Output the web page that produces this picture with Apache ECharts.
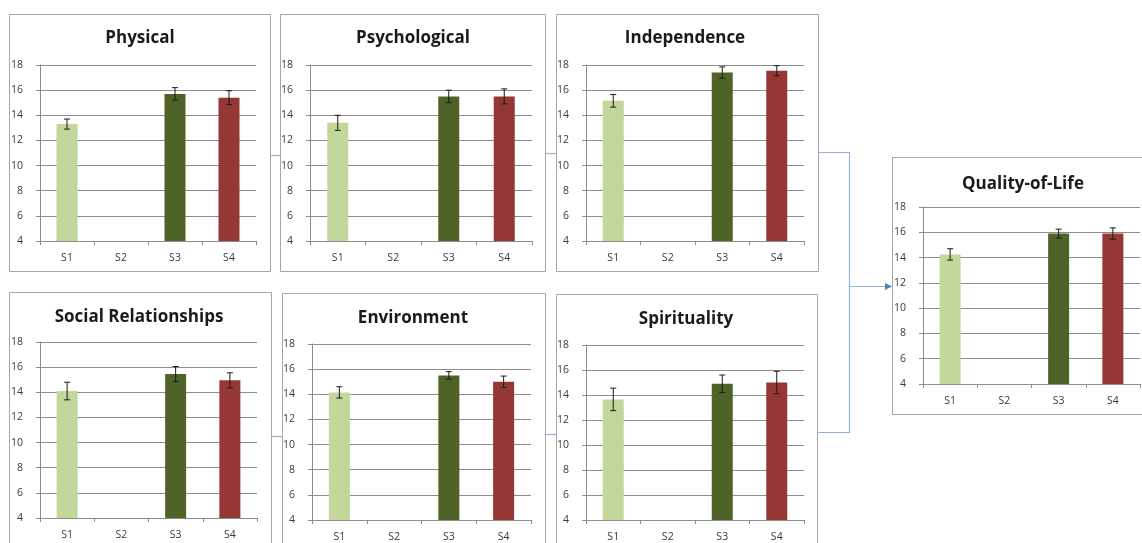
<!DOCTYPE html>
<html>
<head>
<meta charset="utf-8">
<title>WHOQOL domains by stage</title>
<script src="https://cdn.jsdelivr.net/npm/echarts@6/dist/echarts.min.js"></script>
<style>
  html, body { margin: 0; padding: 0; background: #ffffff; }
  #chart { width: 1142px; height: 543px; }
</style>
</head>
<body>
<div id="chart"></div>
<script>
// Categories shared by every panel
const categories = ['S1', 'S2', 'S3', 'S4'];
const yTicks = [4, 6, 8, 10, 12, 14, 16, 18];

// Mean domain scores per stage (S2 has no data) and their error half-widths
const physicalMean = [13.3, null, 15.7, 15.4];
const physicalErr = [0.4, null, 0.5, 0.55];
const psychologicalMean = [13.4, null, 15.5, 15.5];
const psychologicalErr = [0.6, null, 0.5, 0.6];
const independenceMean = [15.15, null, 17.4, 17.55];
const independenceErr = [0.5, null, 0.45, 0.4];
const socialMean = [14.1, null, 15.45, 14.95];
const socialErr = [0.7, null, 0.6, 0.6];
const environmentMean = [14.15, null, 15.5, 15.0];
const environmentErr = [0.45, null, 0.3, 0.45];
const spiritualityMean = [13.65, null, 14.9, 15.0];
const spiritualityErr = [0.9, null, 0.7, 0.9];
const qolMean = [14.25, null, 15.9, 15.9];
const qolErr = [0.45, null, 0.35, 0.45];

const barColors = ['#c3d69b', '#8eb4e3', '#4f6228', '#953735'];

const panels = [
  { title: 'Physical', mean: physicalMean, err: physicalErr },
  { title: 'Psychological', mean: psychologicalMean, err: psychologicalErr },
  { title: 'Independence', mean: independenceMean, err: independenceErr },
  { title: 'Social Relationships', mean: socialMean, err: socialErr },
  { title: 'Environment', mean: environmentMean, err: environmentErr },
  { title: 'Spirituality', mean: spiritualityMean, err: spiritualityErr },
  { title: 'Quality-of-Life', mean: qolMean, err: qolErr }
];

// Page layout: frame box, plot rectangle and title centre for each panel
const layout = [
  { box: [9, 14, 261, 257], grid: [40, 65, 216, 176], title: [140, 38] },
  { box: [280, 14, 265, 257], grid: [310, 65, 222, 176], title: [413, 38] },
  { box: [556, 14, 262, 257], grid: [586, 65, 218, 176], title: [685, 38] },
  { box: [9, 292, 262, 270], grid: [40, 342, 217, 176], title: [139, 317] },
  { box: [282, 293, 263, 270], grid: [312, 344, 219, 176], title: [413, 318] },
  { box: [556, 294, 261, 270], grid: [586, 345, 218, 176], title: [686, 319] },
  { box: [892, 157, 260, 257], grid: [923, 207, 217, 177], title: [1023, 184] }
];

const axisGray = '#8c8c8c';
const textGray = '#3a3a3a';
const font = 'Open Sans';

const grids = [], xAxes = [], yAxes = [], series = [], graphics = [];

panels.forEach((p, i) => {
  const L = layout[i];
  grids.push({ left: L.grid[0], top: L.grid[1], width: L.grid[2], height: L.grid[3], containLabel: false });
  xAxes.push({
    type: 'category', gridIndex: i, data: categories, boundaryGap: true,
    axisLine: { show: true, lineStyle: { color: axisGray, width: 1 } },
    axisTick: { show: true, alignWithLabel: false, interval: 0, length: 4, lineStyle: { color: axisGray } },
    axisLabel: { color: textGray, fontSize: 10.5, fontFamily: font, margin: 12 },
    splitLine: { show: false }
  });
  yAxes.push({
    type: 'value', gridIndex: i, min: 4, max: 18, interval: 2,
    axisLine: { show: true, lineStyle: { color: axisGray, width: 1 } },
    axisTick: { show: true, length: 4, lineStyle: { color: axisGray } },
    axisLabel: { color: textGray, fontSize: 10.5, fontFamily: font, margin: 17,
      formatter: v => (yTicks.indexOf(v) >= 0 ? String(v) : '') },
    splitLine: { show: true, lineStyle: { color: axisGray, width: 1 } }
  });
  series.push({
    type: 'bar', xAxisIndex: i, yAxisIndex: i, barWidth: 21, z: 2,
    data: p.mean.map((v, k) => (v == null ? '-' : { value: v, itemStyle: { color: barColors[k] } })),
    animation: false
  });
  const errData = [];
  p.mean.forEach((v, k) => {
    if (v != null) errData.push([k, v - p.err[k], v + p.err[k]]);
  });
  series.push({
    type: 'custom', xAxisIndex: i, yAxisIndex: i, z: 5, animation: false,
    data: errData,
    encode: { x: 0, y: [1, 2] },
    renderItem: (params, api) => {
      const lo = api.coord([api.value(0), api.value(1)]);
      const hi = api.coord([api.value(0), api.value(2)]);
      const cap = 3;
      const style = { stroke: '#1a1a1a', lineWidth: 1 };
      return {
        type: 'group',
        children: [
          { type: 'line', shape: { x1: hi[0], y1: hi[1], x2: lo[0], y2: lo[1] }, style },
          { type: 'line', shape: { x1: hi[0] - cap, y1: hi[1], x2: hi[0] + cap, y2: hi[1] }, style },
          { type: 'line', shape: { x1: lo[0] - cap, y1: lo[1], x2: lo[0] + cap, y2: lo[1] }, style }
        ]
      };
    }
  });
  graphics.push({
    type: 'rect', z: -10, silent: true,
    shape: { x: L.box[0] + 0.5, y: L.box[1] + 0.5, width: L.box[2], height: L.box[3] },
    style: { fill: '#ffffff', stroke: '#a6a6a6', lineWidth: 1 }
  });
  graphics.push({
    type: 'text', z: 10, silent: true, x: L.title[0], y: L.title[1],
    style: { text: p.title, fill: '#1a1a1a', font: 'bold 17px "' + font + '"', align: 'center', verticalAlign: 'middle' }
  });
});

// Connectors between the domain panels and the overall score
const linkColor = '#95b3d7';
const connectors = [
  [[270, 155.5], [280, 155.5]],
  [[545, 153.5], [556, 153.5]],
  [[271, 436.5], [282, 436.5]],
  [[545, 434.5], [556, 434.5]],
  [[818, 152.5], [849.5, 152.5], [849.5, 432.5], [817, 432.5]],
  [[849.5, 286.5], [886, 286.5]]
];
connectors.forEach(pts => {
  graphics.push({
    type: 'polyline', z: -5, silent: true,
    shape: { points: pts },
    style: { stroke: linkColor, lineWidth: 1.2, fill: null }
  });
});
graphics.push({
  type: 'polygon', z: -5, silent: true,
  shape: { points: [[885, 283], [892, 286.5], [885, 290]] },
  style: { fill: '#4f81bd' }
});

const chart = echarts.init(document.getElementById('chart'), null, { renderer: 'canvas' });
chart.setOption({
  backgroundColor: '#ffffff',
  animation: false,
  grid: grids,
  xAxis: xAxes,
  yAxis: yAxes,
  series: series,
  graphic: { elements: graphics }
});
</script>
</body>
</html>
